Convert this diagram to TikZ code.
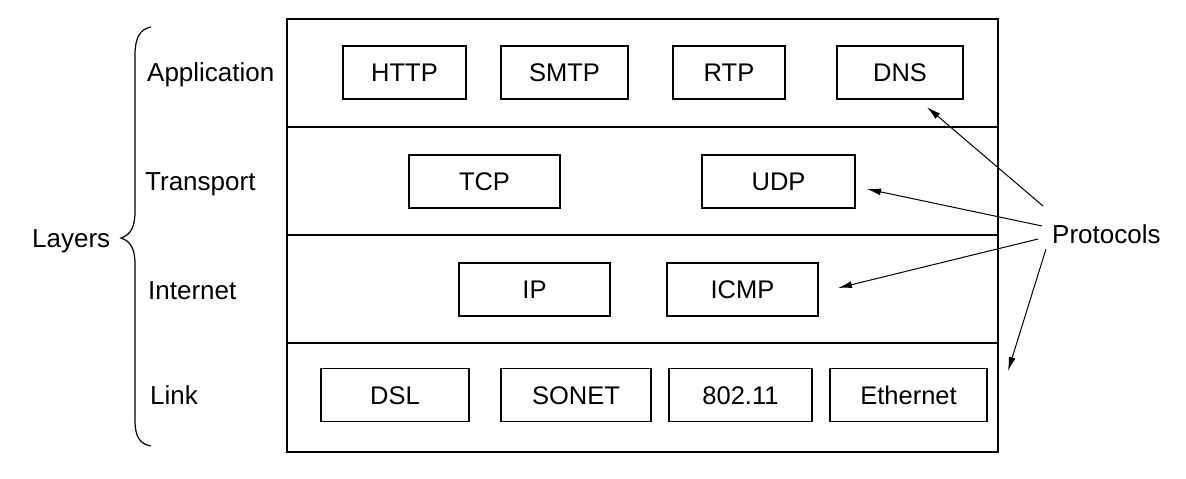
\documentclass[tikz,border=0pt]{standalone}
\usepackage{fontspec}
\setmainfont{Liberation Sans}
\usetikzlibrary{arrows.meta}
\begin{document}
\begin{tikzpicture}[x=1pt,y=-1pt,
  proto/.style={draw,line width=1.3pt,inner sep=0pt,minimum height=53pt,text height=18.3pt,text depth=0pt,font=\fontsize{25.5}{30}\selectfont},
  lbl/.style={font=\fontsize{26}{30}\selectfont,inner sep=0pt},
  arr/.style={line width=1pt,-{Latex[length=14pt,width=7pt]}}]
\useasboundingbox (0,0) rectangle (1186,479);
% outer stack
\draw[line width=1.3pt] (287,19) rectangle (998,452);
\draw[line width=1.3pt] (287,127) -- (998,127);
\draw[line width=1.3pt] (287,235) -- (998,235);
\draw[line width=1.3pt] (287,343) -- (998,343);
% application
\node[proto,minimum width=123pt] (http) at (404.5,72.5) {HTTP};
\node[proto,minimum width=127pt] (smtp) at (564.5,72.5) {SMTP};
\node[proto,minimum width=112pt] (rtp) at (729,72.5) {RTP};
\node[proto,minimum width=126pt] (dns) at (900,72.5) {DNS};
% transport
\node[proto,minimum width=151pt] (tcp) at (484.5,181.5) {TCP};
\node[proto,minimum width=153pt] (udp) at (778.5,181.5) {UDP};
% internet
\node[proto,minimum width=151pt] (ip) at (534.5,289.5) {IP};
\node[proto,minimum width=151pt] (icmp) at (742.5,289.5) {ICMP};
% link
\node[proto,minimum width=148pt] (dsl) at (395,395) {DSL};
\node[proto,minimum width=150pt] (sonet) at (576,395) {SONET};
\node[proto,minimum width=143pt] (wifi) at (740.5,395) {802.11};
\node[proto,minimum width=157pt] (eth) at (908.5,395) {Ethernet};
% layer labels
\node[lbl,anchor=west] (lapp) at (147,75) {Application};
\node[lbl,anchor=west] (ltra) at (145,184) {Transport};
\node[lbl,anchor=west] (lint) at (148,291) {Internet};
\node[lbl,anchor=west] (llnk) at (150,395) {Link};
\node[lbl,anchor=west] (layers) at (32,241) {Layers};
% brace
\draw[line width=1.2pt] (151,27) .. controls (140,29) and (135,38) .. (135,55)
  -- (135,212) .. controls (135,228) and (130,235) .. (121,238)
  .. controls (130,241) and (135,248) .. (135,264)
  -- (135,420) .. controls (135,437) and (140,444) .. (151,446);
% protocols
\node[lbl,anchor=west] (prot) at (1052,234) {Protocols};
\coordinate (s1) at (1043,206);
\coordinate (s2) at (1042,226);
\coordinate (s3) at (1038,239);
\coordinate (s4) at (1046,249);
\coordinate (e1) at (927,107);
\coordinate (e2) at (867,189);
\coordinate (e3) at (838,288);
\coordinate (e4) at (1008,371);
\draw[arr] (s1) -- (e1);
\draw[arr] (s2) -- (e2);
\draw[arr] (s3) -- (e3);
\draw[arr] (s4) -- (e4);
\end{tikzpicture}
\end{document}
